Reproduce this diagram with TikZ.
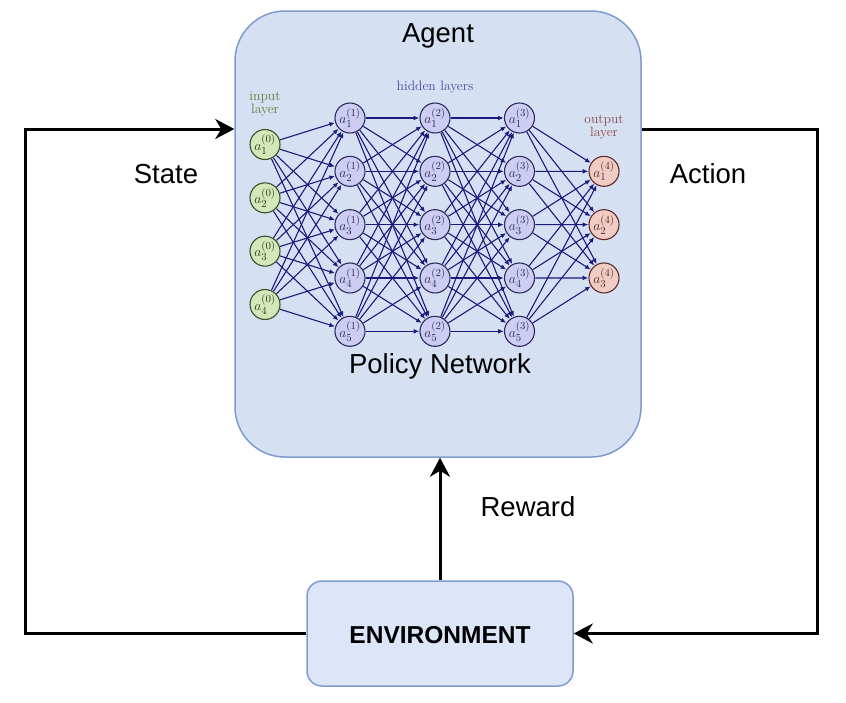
\documentclass[tikz,border=0pt]{standalone}
\usepackage{fix-cm}
\usepackage{fontspec}
\newfontfamily\arial{Liberation Sans}
\usetikzlibrary{arrows.meta}
\DeclareMathSizes{13.6}{13.6}{10.8}{8.5}
\definecolor{infill}{HTML}{D3E7B8}
\definecolor{inline}{HTML}{3A4F2A}
\definecolor{intext}{HTML}{2E3A26}
\definecolor{hidfill}{HTML}{CDCDF3}
\definecolor{hidline}{HTML}{2B2B5E}
\definecolor{hidtext}{HTML}{2E2E4E}
\definecolor{outfill}{HTML}{F0CCC2}
\definecolor{outline}{HTML}{5E2B2B}
\definecolor{outtext}{HTML}{4A2A2A}
\definecolor{edgecol}{HTML}{1B1B7D}
\definecolor{inlbl}{HTML}{5E7F3E}
\definecolor{hidlbl}{HTML}{4B4BA5}
\definecolor{outlbl}{HTML}{8C4646}
\definecolor{agentfill}{HTML}{D5E1F2}
\definecolor{envfill}{HTML}{DCE6F8}
\definecolor{boxline}{HTML}{7E9BD0}
\tikzset{
  agentbox/.style={rectangle, rounded corners=50pt, fill=agentfill, draw=boxline, line width=1.5pt, inner sep=0pt},
  envbox/.style={rectangle, rounded corners=15pt, fill=envfill, draw=boxline, line width=1.5pt, inner sep=0pt},
  biglbl/.style={font=\arial\fontsize{27.5}{30}\selectfont, inner sep=0pt},
  envlbl/.style={font=\arial\bfseries\fontsize{24.5}{28}\selectfont, inner sep=0pt},
  flow/.style={line width=3pt, draw=black, -{Stealth[length=19pt,width=20pt,inset=6pt]}},
  nn/.style={circle, minimum size=30pt, inner sep=0pt, outer sep=0.8pt, line width=1.1pt, font=\fontsize{13.6}{16}\selectfont},
  nnin/.style={nn, fill=infill, draw=inline, text=intext},
  nnhid/.style={nn, fill=hidfill, draw=hidline, text=hidtext},
  nnout/.style={nn, fill=outfill, draw=outline, text=outtext},
  conn/.style={line width=1.1pt, draw=edgecol, -{Latex[length=5.5pt,width=4.8pt]}},
  nnlbl/.style={font=\fontsize{13.6}{16}\selectfont, inner sep=0pt, anchor=base},
}
\begin{document}
\begin{tikzpicture}[x=1pt,y=-1pt]
\useasboundingbox (0,0) rectangle (846,702);

% boxes
\node[agentbox, minimum width=406pt, minimum height=446pt] (agent) at (438,234) {};
\node[envbox, minimum width=266pt, minimum height=105pt] (env) at (440,633.5) {};
\node[envlbl, anchor=base] (envtxt) at (440,643.3) {ENVIRONMENT};

% texts
\node[biglbl, anchor=base] (tagent) at (438,42) {Agent};
\node[biglbl, anchor=base] (tpolicy) at (440,373) {Policy Network};
\node[biglbl, anchor=base] (tstate) at (166,183) {State};
\node[biglbl, anchor=base] (taction) at (708,183) {Action};
\node[biglbl, anchor=base] (treward) at (528,516) {Reward};

% network labels
\node[nnlbl, text=inlbl] (lin1) at (265,100) {input};
\node[nnlbl, text=inlbl] (lin2) at (265,113.3) {layer};
\node[nnlbl, text=hidlbl] (lhid) at (435,90) {hidden layers};
\node[nnlbl, text=outlbl] (lout1) at (604,123.3) {output};
\node[nnlbl, text=outlbl] (lout2) at (604,136) {layer};

% network nodes
\foreach \j in {1,...,4}
  \node[nnin] (i\j) at (265,{144.5+53.33*(\j-1)}) {$a_{\j}^{(0)}$};
\foreach \l/\x in {1/350,2/435,3/519.5}
  \foreach \j in {1,...,5}
    \node[nnhid] (h\l\j) at (\x,{118+53.33*(\j-1)}) {$a_{\j}^{(\l)}$};
\foreach \j in {1,...,3}
  \node[nnout] (o\j) at (604,{171.3+53.33*(\j-1)}) {$a_{\j}^{(4)}$};

% network connections
\foreach \i in {1,...,4}
  \foreach \j in {1,...,5}
    \draw[conn] (i\i) -- (h1\j);
\foreach \l/\m in {1/2,2/3}
  \foreach \i in {1,...,5}
    \foreach \j in {1,...,5}
      \draw[conn] (h\l\i) -- (h\m\j);
\foreach \i in {1,...,5}
  \foreach \j in {1,...,3}
    \draw[conn] (h3\i) -- (o\j);

% loop coordinates
\coordinate (lx) at (25.5,0);
\coordinate (rx) at (817,0);
\coordinate (ay) at (0,129);

% connectors
\draw[flow] (env.west) -| (lx |- ay) -- (agent.west |- ay);
\draw[flow] (agent.east |- ay) -| (rx |- env.east) -- (env.east);
\draw[flow] (env.north) -- (env.north |- agent.south);
\end{tikzpicture}
\end{document}
